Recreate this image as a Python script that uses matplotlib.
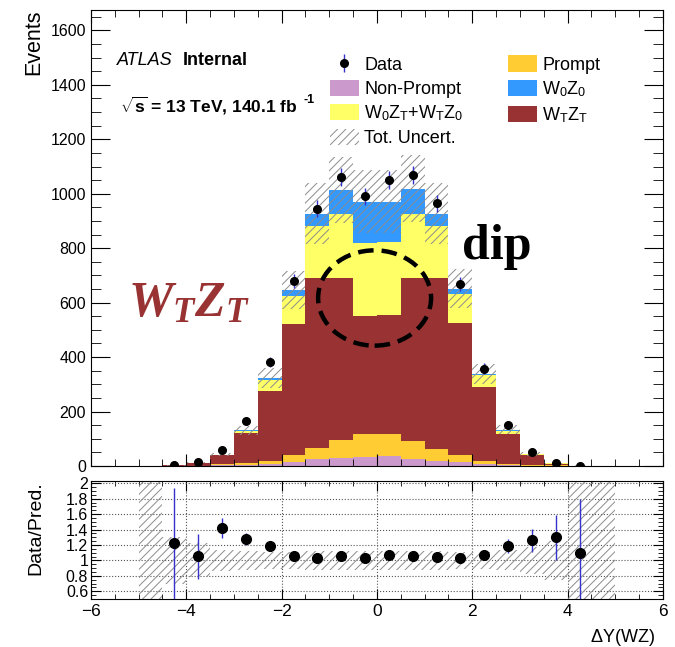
import numpy as np
import matplotlib
matplotlib.use("Agg")
import matplotlib.pyplot as plt
from matplotlib.patches import Ellipse, Patch
from matplotlib.ticker import MultipleLocator

plt.rcParams["font.family"] = ["Liberation Sans", "DejaVu Sans"]
plt.rcParams["mathtext.fontset"] = "custom"
plt.rcParams["mathtext.rm"] = "Liberation Sans"
plt.rcParams["mathtext.bf"] = "Liberation Sans:bold"
plt.rcParams["mathtext.it"] = "Liberation Serif:italic:bold"
plt.rcParams["hatch.linewidth"] = 0.7

# binning in Delta Y(WZ)
edges = np.arange(-5.0, 5.01, 0.5)

# stacked predictions per bin (events), bottom to top
non_prompt = [0, 0.1, 0.5, 2, 4, 7, 15, 25, 31, 34, 38, 25, 20, 15, 7, 3, 1.5, 0.5, 0.05, 0]
prompt = [0, 0.2, 1, 4, 6, 12, 25, 42, 65, 83, 81, 68, 41, 25, 13, 5, 2.5, 1.5, 0.15, 0]
wt_zt = [0, 2.1, 9.5, 34, 110, 258, 483, 624, 595, 433, 434, 598, 630, 485, 270, 110, 38, 7, 0.7, 0]
mixed = [0, 0.05, 1, 1.5, 8, 39, 103, 190, 233, 268, 269, 233, 190, 105, 44, 12, 2, 0.7, 0.05, 0]
w0_z0 = [0, 0.01, 0.3, 0.5, 3, 7, 20, 46, 90, 153, 149, 95, 46, 21, 4, 3, 1, 0.3, 0.05, 0]

# total relative uncertainty per bin
rel_unc = [2.0, 0.30, 0.22, 0.14, 0.12, 0.11, 0.11, 0.12, 0.12, 0.12,
           0.12, 0.12, 0.12, 0.11, 0.11, 0.13, 0.18, 0.25, 2.0, 2.0]

# data points
data_x = [-4.25, -3.75, -3.25, -2.75, -2.25, -1.75, -1.25, -0.75, -0.25,
          0.25, 0.75, 1.25, 1.75, 2.25, 2.75, 3.25, 3.75, 4.25]
data_y = [3, 13, 59, 167, 382, 680, 945, 1061, 990,
          1051, 1068, 965, 670, 358, 149, 53, 12, 1]
data_err = [1.7, 3.6, 7.7, 12.9, 19.5, 26, 30.7, 32.6, 31.5,
            32.4, 32.7, 31, 25.9, 18.9, 12.2, 7.3, 3.5, 1.0]

# data / prediction
ratio = [1.22, 1.055, 1.42, 1.28, 1.19, 1.055, 1.025, 1.055, 1.025,
         1.075, 1.055, 1.045, 1.035, 1.065, 1.19, 1.26, 1.30, 1.10]
ratio_err = [0.72, 0.29, 0.13, 0.08, 0.05, 0.04, 0.035, 0.035, 0.035,
             0.035, 0.035, 0.035, 0.04, 0.05, 0.09, 0.15, 0.29, 0.70]

colors = {
    "Non-Prompt": "#cc99cc",
    "Prompt": "#ffcc33",
    "WTZT": "#993333",
    "mixed": "#ffff66",
    "W0Z0": "#3399ff",
}
err_color = "#3333cc"
hatch_color = "#8c8c8c"

fig = plt.figure(figsize=(6.75, 6.47), dpi=100)
ax = fig.add_axes([0.1348, 0.2798, 0.8474, 0.7048])
rax = fig.add_axes([0.1348, 0.0742, 0.8474, 0.1824])

# stacked histogram
stack = [non_prompt, prompt, wt_zt, mixed, w0_z0]
keys = ["Non-Prompt", "Prompt", "WTZT", "mixed", "W0Z0"]
base = np.zeros(len(edges) - 1)
for vals, key in zip(stack, keys):
    top = base + np.array(vals)
    ax.stairs(top, edges, baseline=base, fill=True, color=colors[key], lw=0)
    base = top
total = base
unc = total * np.array(rel_unc)
ax.stairs(total + unc, edges, baseline=total - unc, fill=True,
          facecolor="none", edgecolor=hatch_color, hatch="////", lw=0)

data_h = ax.errorbar(data_x, data_y, yerr=data_err, fmt="o", color="black",
                     ms=5.5, ecolor=err_color, elinewidth=1, capsize=0, zorder=5)

ax.set_xlim(-6, 6)
ax.set_ylim(0, 1675)
ax.yaxis.set_major_locator(MultipleLocator(200))
ax.yaxis.set_minor_locator(MultipleLocator(50))
ax.xaxis.set_major_locator(MultipleLocator(2))
ax.xaxis.set_minor_locator(MultipleLocator(0.5))
ax.tick_params(axis="x", which="both", direction="in", top=True, labelbottom=False)
ax.tick_params(axis="x", which="major", length=9)
ax.tick_params(axis="x", which="minor", length=4.8)
ax.tick_params(axis="y", which="both", direction="in", right=True, labelsize=11.5)
ax.tick_params(axis="y", which="major", length=13.5)
ax.tick_params(axis="y", which="minor", length=7)
ax.set_ylabel("Events", fontsize=15.5, loc="top")
ax.yaxis.set_label_coords(-0.082, 1.0)

# labels
ax.text(0.046, 0.88, "ATLAS", style="italic", fontsize=13, transform=ax.transAxes)
ax.text(0.160, 0.88, "Internal", weight="bold", fontsize=13, transform=ax.transAxes)
ax.text(0.05, 0.776, r"$\sqrt{\mathbf{s}}$ = 13 TeV, 140.1 fb", weight="bold",
        fontsize=12.5, transform=ax.transAxes)
ax.text(0.372, 0.796, "-1", weight="bold", fontsize=9, transform=ax.transAxes)

# annotations on the stack
ax.add_patch(Ellipse((-0.05, 617), 2.37, 350, fill=False, edgecolor="black",
                     lw=3.2, linestyle=(0, (3.5, 1.8)), zorder=6))
ax.text(1.79, 759, "dip", family="Liberation Serif", weight="bold",
        fontsize=36, va="baseline", zorder=6)
ax.text(-5.23, 549, r"$W_T Z_T$", color=colors["WTZT"], fontsize=36,
        va="baseline", zorder=6)

handles = [
    data_h,
    Patch(facecolor=colors["Non-Prompt"]),
    Patch(facecolor=colors["mixed"]),
    Patch(facecolor="none", edgecolor=hatch_color, hatch="////", lw=0),
    Patch(facecolor=colors["Prompt"]),
    Patch(facecolor=colors["W0Z0"]),
    Patch(facecolor=colors["WTZT"]),
]
labels = ["Data", "Non-Prompt",
          r"W$_\mathrm{0}$Z$_\mathrm{T}$+W$_\mathrm{T}$Z$_\mathrm{0}$",
          "Tot. Uncert.", "Prompt",
          r"W$_\mathrm{0}$Z$_\mathrm{0}$", r"W$_\mathrm{T}$Z$_\mathrm{T}$"]
ax.legend(handles, labels, ncol=2, loc="upper left", bbox_to_anchor=(0.402, 0.92),
          frameon=False, fontsize=13, handlelength=1.6, handleheight=1.0,
          handletextpad=0.3, columnspacing=2.45, labelspacing=0.32, borderpad=0)

# ratio panel
rax.stairs(1 + np.array(rel_unc), edges, baseline=1 - np.array(rel_unc), fill=True,
           facecolor="none", edgecolor=hatch_color, hatch="////", lw=0)
rax.errorbar(data_x, ratio, yerr=ratio_err, fmt="o", color="black", ms=7,
             ecolor=err_color, elinewidth=1, capsize=0, zorder=5)
rax.set_xlim(-6, 6)
rax.set_ylim(0.5, 2.03)
rax.xaxis.set_major_locator(MultipleLocator(2))
rax.xaxis.set_minor_locator(MultipleLocator(0.5))
rax.yaxis.set_major_locator(MultipleLocator(0.2))
rax.yaxis.set_minor_locator(MultipleLocator(0.05))
rax.yaxis.set_major_formatter(lambda v, pos: f"{v:g}")
rax.grid(True, which="major", linestyle=":", color="#555555", lw=0.8)
rax.set_axisbelow(True)
rax.tick_params(axis="x", which="both", direction="in", top=True, labelsize=12.5)
rax.tick_params(axis="x", which="major", length=7)
rax.tick_params(axis="x", which="minor", length=3.5)
rax.tick_params(axis="y", which="both", direction="in", right=True, labelsize=11.5, pad=2)
rax.tick_params(axis="y", which="major", length=7)
rax.tick_params(axis="y", which="minor", length=3.5)
rax.set_ylabel("Data/Pred.", fontsize=14, loc="top")
rax.yaxis.set_label_coords(-0.082, 1.0)
rax.set_xlabel(r"$\mathrm{\Delta Y(WZ)}$", fontsize=13, loc="right")
rax.xaxis.set_label_coords(0.986, -0.24)

fig.savefig("out.png", dpi=100)
